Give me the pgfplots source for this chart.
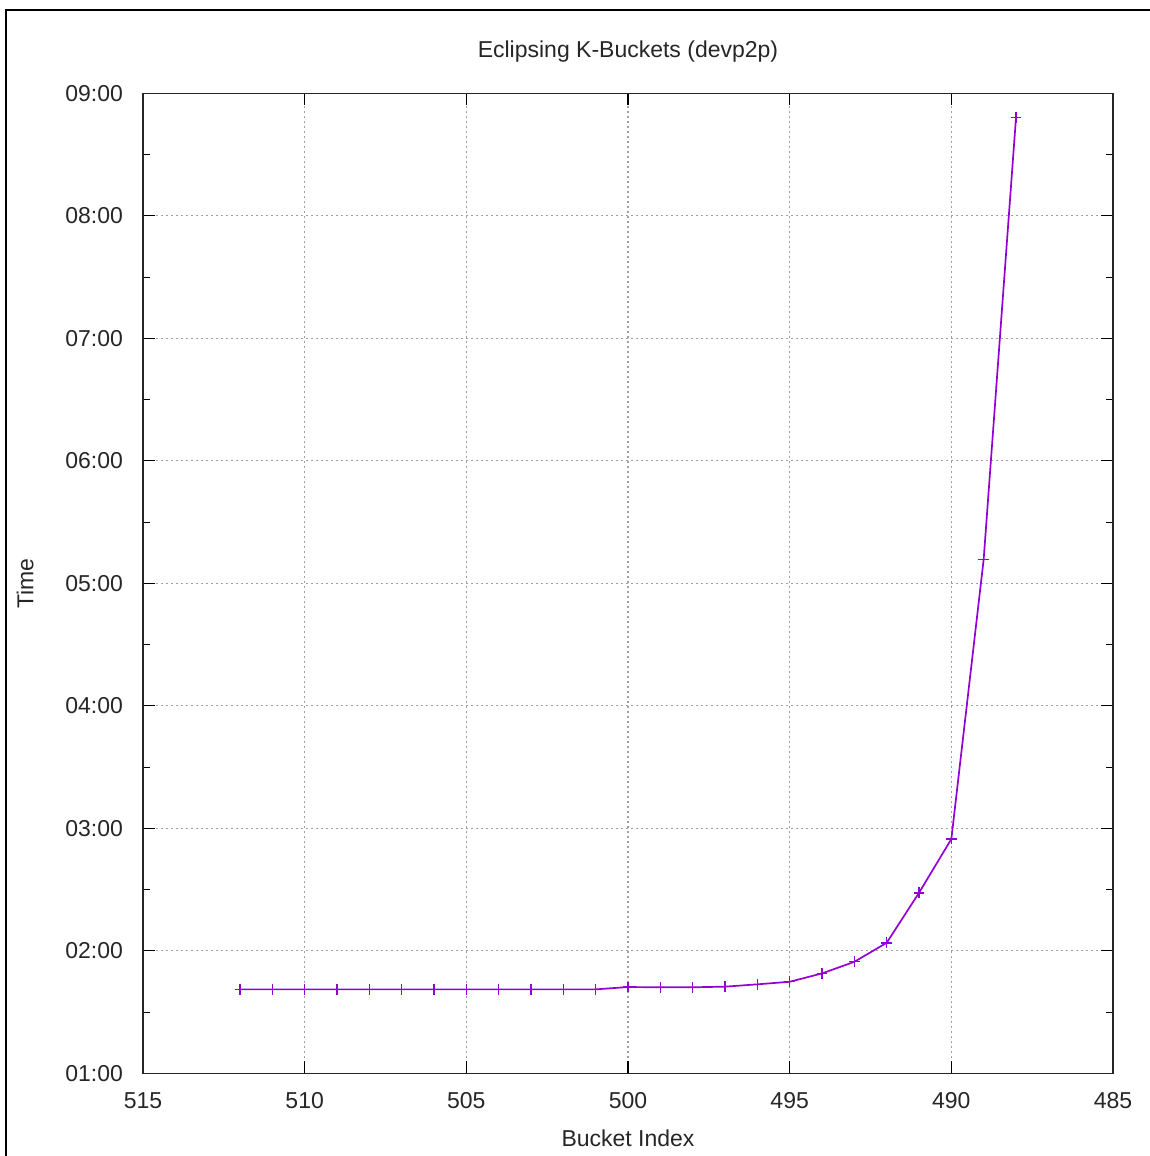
\documentclass[border=0pt]{standalone}
\usepackage{fontspec}
\setmainfont{Liberation Sans}
\usepackage{pgfplots}
\pgfplotsset{compat=1.18}
\usetikzlibrary{calc}
\definecolor{gpviolet}{RGB}{148,0,211}
\definecolor{gpgrid}{RGB}{160,160,160}
\begin{document}
\begin{tikzpicture}
\begin{axis}[
  name=ax,
  width=485pt, height=490pt,
  scale only axis,
  x dir=reverse,
  xmin=485, xmax=515,
  ymin=1, ymax=9,
  xtick={485,490,...,515},
  ytick={1,2,...,9},
  yticklabels={01:00,02:00,03:00,04:00,05:00,06:00,07:00,08:00,09:00},
  minor y tick num=1,
  tick align=inside,
  tick pos=both,
  major tick length=6pt,
  minor tick length=3.5pt,
  every tick/.style={black, line width=0.6pt},
  axis line style={black!85, line width=0.75pt},
  grid=major,
  major grid style={gpgrid, line width=0.55pt, dash pattern=on 1pt off 1.5pt},
  font=\fontsize{11.5}{14}\selectfont,
  /pgf/number format/assume math mode=true,
  /pgf/number format/1000 sep={},
  tick label style={black!85},
  x tick label style={yshift=-6pt},
  y tick label style={xshift=-6.5pt},
  title={Eclipsing K-Buckets (devp2p)},
  title style={at={(axis description cs:0.5,1)}, anchor=center, yshift=15pt, black!85},
  xlabel={Bucket Index},
  xlabel style={at={(axis description cs:0.5,0)}, anchor=center, yshift=-32.3pt, black!85},
  ylabel={Time},
  ylabel style={at={(axis description cs:-0.1216,0.5)}, anchor=center, black!85},
]
\addplot[gpviolet, line width=0.85pt, mark=+, mark size=2.7pt,
  mark options={line width=0.7pt}] coordinates {
  (512,1.686) (511,1.686) (510,1.686) (509,1.686) (508,1.686) (507,1.686)
  (506,1.686) (505,1.686) (504,1.686) (503,1.686) (502,1.686) (501,1.686)
  (500,1.705) (499,1.703) (498,1.703) (497,1.708) (496,1.727) (495,1.748)
  (494,1.816) (493,1.911) (492,2.066) (491,2.474) (490,2.913) (489,5.196)
  (488,8.801)
};
\end{axis}
\pgfresetboundingbox
\useasboundingbox ($(ax.south west)+(-71.5pt,-41.3pt)$) rectangle ($(ax.north east)+(18.3pt,46.7pt)$);
\draw[black, line width=1pt] ($(ax.south west)+(-68.5pt,-41.3pt)$) -- ($(ax.south west |- ax.north east)+(-68.5pt,41.7pt)$) -- ($(ax.north east)+(18.3pt,41.7pt)$);
\end{tikzpicture}
\end{document}
